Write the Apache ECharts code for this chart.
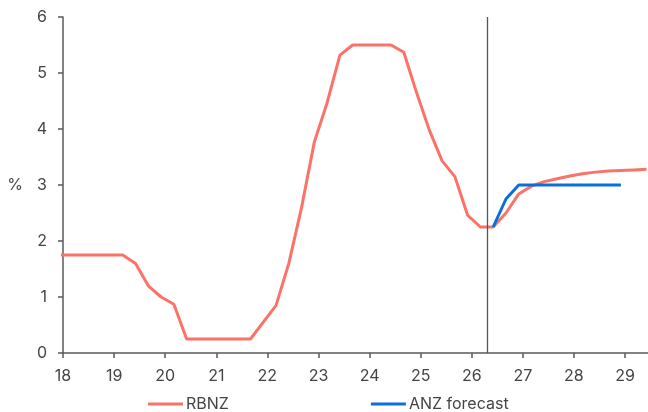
<!DOCTYPE html>
<html>
<head>
<meta charset="utf-8">
<script src="https://cdn.jsdelivr.net/npm/echarts@6/dist/echarts.min.js"></script>
<style>
  html, body { margin: 0; padding: 0; background: #fff; }
  #chart { width: 648px; height: 412px; }
</style>
</head>
<body>
<div id="chart"></div>
<script>
// Official cash rate track (RBNZ) and ANZ forecast, quarterly, x = year (20xx, decimal)
const rbnzX = [17.92, 18.17, 18.42, 18.67, 18.92, 19.17, 19.42, 19.67, 19.92, 20.17,
  20.42, 20.67, 20.92, 21.17, 21.42, 21.67, 21.92, 22.17, 22.42, 22.67,
  22.92, 23.17, 23.42, 23.67, 23.92, 24.17, 24.42, 24.67, 24.92, 25.17,
  25.42, 25.67, 25.92, 26.17, 26.42, 26.67, 26.92, 27.17, 27.42, 27.67,
  27.92, 28.17, 28.42, 28.67, 28.92, 29.17, 29.42];
const rbnzY = [1.75, 1.75, 1.75, 1.75, 1.75, 1.75, 1.6, 1.2, 1.0, 0.87,
  0.25, 0.25, 0.25, 0.25, 0.25, 0.25, 0.55, 0.85, 1.6, 2.6,
  3.77, 4.47, 5.32, 5.5, 5.5, 5.5, 5.5, 5.37, 4.65, 3.98,
  3.43, 3.15, 2.46, 2.25, 2.25, 2.5, 2.84, 2.98, 3.06, 3.11,
  3.16, 3.2, 3.23, 3.25, 3.26, 3.27, 3.28];
const anzX = [26.42, 26.67, 26.92, 27.17, 27.42, 27.67, 27.92, 28.17, 28.42, 28.67, 28.92];
const anzY = [2.25, 2.75, 3.0, 3.0, 3.0, 3.0, 3.0, 3.0, 3.0, 3.0, 3.0];
const xTicks = [18, 19, 20, 21, 22, 23, 24, 25, 26, 27, 28, 29];
const divider = 26.3;

const FONT = 'Inter';
const TEXT = '#444';
const AXIS = '#5a5a5a';

const pair = (xs, ys) => xs.map((x, i) => [x, ys[i]]);

const chart = echarts.init(document.getElementById('chart'), null, { renderer: 'canvas' });
chart.setOption({
  animation: false,
  grid: { left: 63, right: 0, top: 17, bottom: 59, containLabel: false },
  legend: {
    top: 391,
    left: 143,
    itemWidth: 35,
    itemHeight: 3,
    itemGap: 142,
    icon: 'rect',
    textStyle: { fontFamily: FONT, fontSize: 16, color: TEXT, padding: [0, 0, 0, -2] },
    data: ['RBNZ', 'ANZ forecast']
  },
  xAxis: {
    type: 'value',
    min: 18,
    max: 29.45,
    interval: 1,
    splitLine: { show: false },
    axisLine: { show: true, lineStyle: { color: AXIS, width: 1.5 } },
    axisTick: { show: true, length: 5, lineStyle: { color: AXIS, width: 1.5 }, customValues: xTicks },
    axisLabel: { fontFamily: FONT, fontSize: 16, color: TEXT, margin: 15, customValues: xTicks }
  },
  yAxis: {
    type: 'value',
    min: 0,
    max: 6,
    interval: 1,
    name: '%',
    nameLocation: 'middle',
    nameRotate: 0,
    nameGap: 40,
    nameTextStyle: { fontFamily: FONT, fontSize: 16, color: TEXT, padding: [8, 0, 0, 0] },
    splitLine: { show: false },
    axisLine: { show: true, lineStyle: { color: AXIS, width: 1.5 } },
    axisTick: { show: true, length: 5, lineStyle: { color: AXIS, width: 1.5 } },
    axisLabel: { fontFamily: FONT, fontSize: 16, color: TEXT, margin: 16 }
  },
  series: [
    {
      name: 'RBNZ',
      type: 'line',
      data: pair(rbnzX, rbnzY),
      showSymbol: false,
      clip: true,
      color: '#FA7268',
      lineStyle: { width: 3, color: '#FA7268' },
      markLine: {
        silent: true,
        symbol: 'none',
        label: { show: false },
        lineStyle: { color: '#555', width: 1.3, type: 'solid' },
        data: [{ xAxis: divider }]
      }
    },
    {
      name: 'ANZ forecast',
      type: 'line',
      data: pair(anzX, anzY),
      showSymbol: false,
      color: '#0B6FDB',
      lineStyle: { width: 3, color: '#0B6FDB' }
    }
  ]
});
</script>
</body>
</html>
